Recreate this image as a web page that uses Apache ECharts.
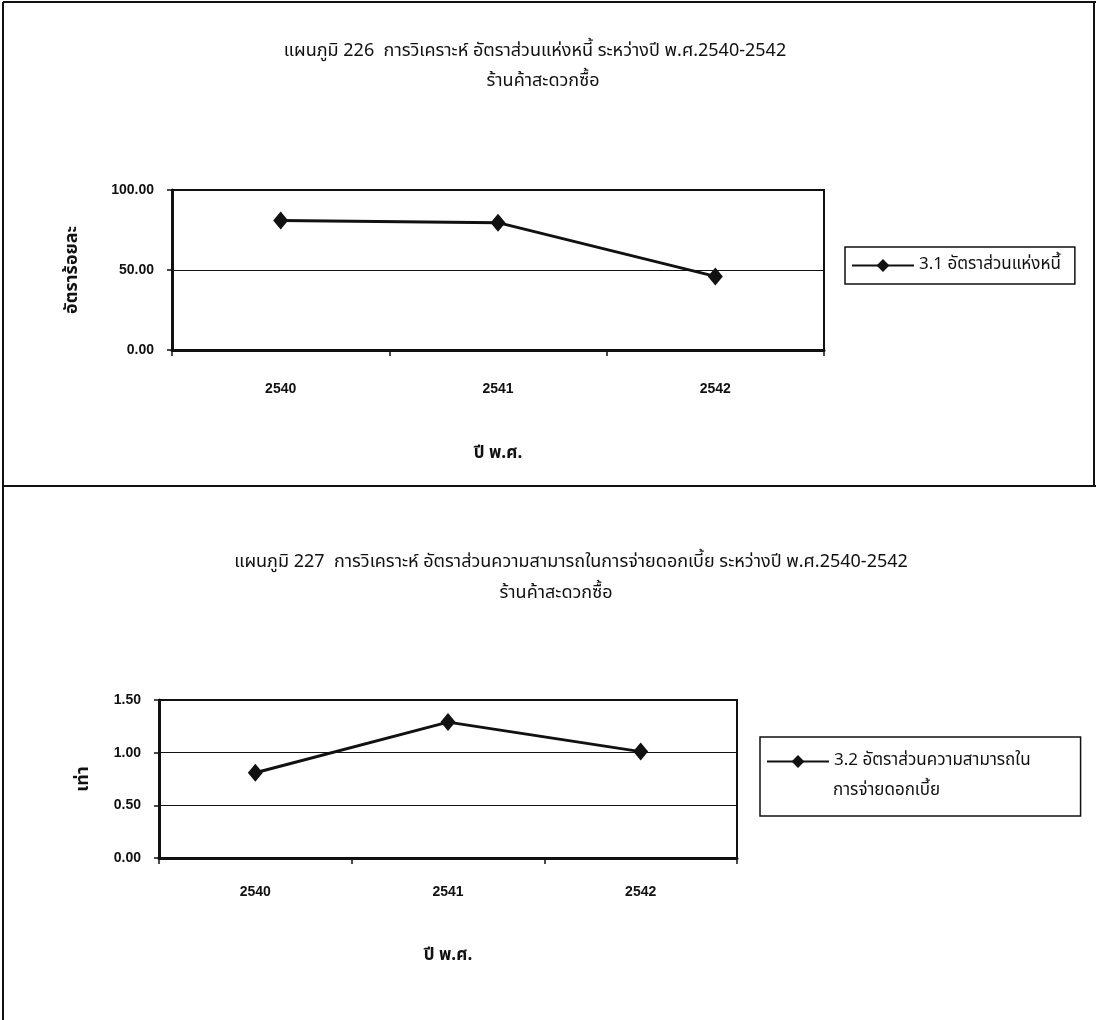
<!DOCTYPE html>
<html>
<head>
<meta charset="utf-8">
<title>แผนภูมิ 226-227</title>
<script src="https://cdn.jsdelivr.net/npm/echarts@6/dist/echarts.min.js"></script>
<style>
  html, body { margin: 0; padding: 0; background: #fff; }
  #chart { width: 1098px; height: 1020px; }
</style>
</head>
<body>
<div id="chart"></div>
<script>
// data
const years = ["2540", "2541", "2542"];
const debtRatio = [81.0, 79.6, 46.0];
const interestCover = [0.81, 1.29, 1.01];
const debtName = "3.1 อัตราส่วนแห่งหนี้";
const coverName = "3.2 อัตราส่วนความสามารถใน\nการจ่ายดอกเบี้ย";
const title1 = "แผนภูมิ 226  การวิเคราะห์ อัตราส่วนแห่งหนี้ ระหว่างปี พ.ศ.2540-2542";
const title2 = "แผนภูมิ 227  การวิเคราะห์ อัตราส่วนความสามารถในการจ่ายดอกเบี้ย ระหว่างปี พ.ศ.2540-2542";
const subTitle = "ร้านค้าสะดวกซื้อ";

const thaiFont = "'Noto Sans Thai', 'Noto Sans', Loma, Garuda, sans-serif";
const numFont = "'Liberation Sans', Arial, sans-serif";
const ink = "#111";

const myChart = echarts.init(document.getElementById("chart"), null, { renderer: "canvas" });

function xAxisFor(gridIndex, margin, nameGap) {
  return {
    type: "category",
    gridIndex,
    data: years,
    boundaryGap: true,
    axisLine: { lineStyle: { color: ink, width: 3 } },
    axisTick: { show: true, length: 6, lineStyle: { color: ink, width: 1.5 } },
    axisLabel: { color: ink, fontFamily: numFont, fontSize: 14, fontWeight: "bold", margin },
    name: "ปี พ.ศ.",
    nameLocation: "middle",
    nameGap,
    nameTextStyle: { color: ink, fontFamily: thaiFont, fontSize: 17, fontWeight: "bold" }
  };
}

function yAxisFor(gridIndex, max, interval, name, nameGap) {
  return {
    type: "value",
    gridIndex,
    min: 0,
    max,
    interval,
    axisLine: { show: true, lineStyle: { color: ink, width: 3 } },
    axisTick: { show: true, length: 5, lineStyle: { color: ink, width: 1.5 } },
    splitLine: { show: true, lineStyle: { color: ink, width: 1 } },
    axisLabel: {
      color: ink, fontFamily: numFont, fontSize: 14, fontWeight: "bold", margin: 18,
      formatter: v => v.toFixed(2)
    },
    name,
    nameLocation: "middle",
    nameRotate: 90,
    nameGap,
    nameTextStyle: { color: ink, fontFamily: thaiFont, fontSize: 18, fontWeight: "bold" }
  };
}

function lineSeries(name, data, idx) {
  return {
    name,
    type: "line",
    xAxisIndex: idx,
    yAxisIndex: idx,
    data,
    symbol: "diamond",
    symbolSize: [15, 18],
    showSymbol: true,
    lineStyle: { color: ink, width: 3 },
    itemStyle: { color: ink },
    animation: false
  };
}

function titleText(text, x, y, size) {
  return {
    type: "text",
    x, y,
    style: {
      text, align: "center", verticalAlign: "middle",
      font: "normal " + size + "px " + thaiFont, fill: ink
    }
  };
}

function frameLine(x1, y1, x2, y2) {
  return { type: "line", shape: { x1, y1, x2, y2 }, style: { stroke: ink, lineWidth: 2 } };
}

const legendText = { color: ink, fontFamily: thaiFont, fontSize: 17 };

myChart.setOption({
  backgroundColor: "#fff",
  animation: false,
  grid: [
    { left: 172, top: 190, width: 652, height: 160, show: true, borderColor: ink, borderWidth: 2, containLabel: false },
    { left: 159, top: 700, width: 578, height: 158, show: true, borderColor: ink, borderWidth: 2, containLabel: false }
  ],
  xAxis: [xAxisFor(0, 32, 96), xAxisFor(1, 27, 90)],
  yAxis: [
    yAxisFor(0, 100, 50, "อัตราร้อยละ", 90),
    yAxisFor(1, 1.5, 0.5, "เท่า", 66)
  ],
  legend: [
    {
      data: [debtName],
      left: 845, top: 247,
      orient: "vertical",
      itemWidth: 62, itemHeight: 16,
      itemGap: 0,
      padding: [10, 14, 10, 6],
      borderColor: ink, borderWidth: 1.5,
      textStyle: legendText,
      selectedMode: false
    },
    {
      // only first line goes through the legend so the icon sits beside it;
      // the second line is drawn below inside the padded box
      data: [coverName],
      left: 760, top: 737,
      orient: "vertical",
      itemWidth: 62, itemHeight: 16,
      padding: [16, 50, 46, 6],
      borderColor: ink, borderWidth: 1.5,
      formatter: n => n.split("\n")[0],
      textStyle: legendText,
      selectedMode: false
    }
  ],
  series: [lineSeries(debtName, debtRatio, 0), lineSeries(coverName, interestCover, 1)],
  graphic: [
    titleText(title1, 535, 52, 18),
    titleText(subTitle, 543, 82, 18),
    titleText(title2, 571, 563, 18),
    titleText(subTitle, 556, 594, 18),
    {
      type: "text",
      x: 833, y: 792,
      style: {
        text: coverName.split("\n")[1], align: "left", verticalAlign: "middle",
        font: "normal 17px " + thaiFont, fill: ink
      }
    },
    frameLine(3, 2, 1096, 2),
    frameLine(3, 2, 3, 1020),
    frameLine(1094, 2, 1094, 486),
    frameLine(3, 486, 1096, 486)
  ]
});
</script>
</body>
</html>
